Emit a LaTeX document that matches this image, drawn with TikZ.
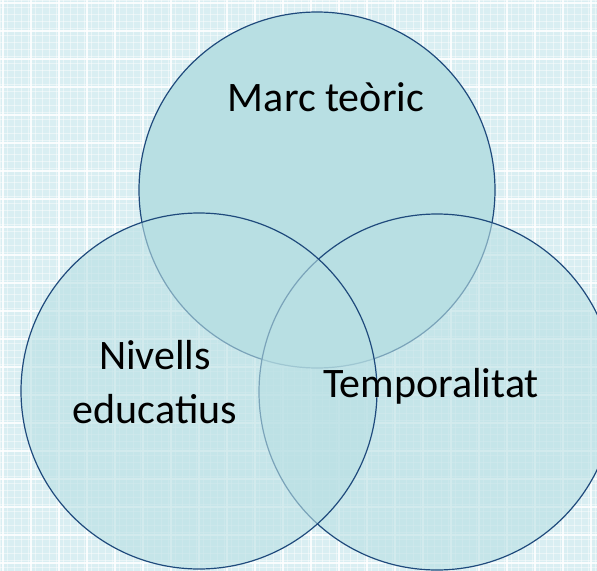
\documentclass[tikz,border=0pt]{standalone}
\usepackage{fontspec}
\setmainfont{Carlito}
\usepackage{tikz}
\usetikzlibrary{positioning}

\definecolor{grid}{HTML}{D9EEF2}
\definecolor{venn}{HTML}{B8DFE3}
\definecolor{rim}{HTML}{1F4A7C}

\tikzset{
  venncircle/.style={circle, draw=rim, line width=0.9pt, fill=venn, minimum size=267pt, inner sep=0pt},
  label/.style={font=\fontsize{31.5}{40}\selectfont, align=center, text=black}
}

\begin{document}
\begin{tikzpicture}[x=0.75pt, y=-0.75pt]
                    % background
                    \fill[grid] (0,0) rectangle (597,571);
                    \useasboundingbox (0,0) rectangle (597,571);

                    \foreach \x in {0,7,...,597}
                        \draw[white, line width=0.4pt, opacity=0.45] (\x,0) -- (\x,571);
                    \foreach \y in {0,7,...,571}
                        \draw[white, line width=0.4pt, opacity=0.45] (0,\y) -- (597,\y);
                    \foreach \x in {3,31,...,597}
                        \draw[white, line width=0.9pt, opacity=0.85] (\x,0) -- (\x,571);
                    \foreach \y in {3,31,...,571}
                        \draw[white, line width=0.9pt, opacity=0.85] (0,\y) -- (597,\y);

                    % circles
                    \node[venncircle] (teoric) at (317,190) {};
                    \node[venncircle, fill opacity=0.6] (temps) at (437,392) {};
                    \node[venncircle, fill opacity=0.6] (nivells) at (199,391) {};

                    % texts
                    \node[label] (marc) at (326,97) {Marc teòric};
                    \node[label] (educ) at (155,382) {Nivells\\educatius};
                    \node[label] (tempo) at (431,386) {Temporalitat};
                \end{tikzpicture}
\end{document}
